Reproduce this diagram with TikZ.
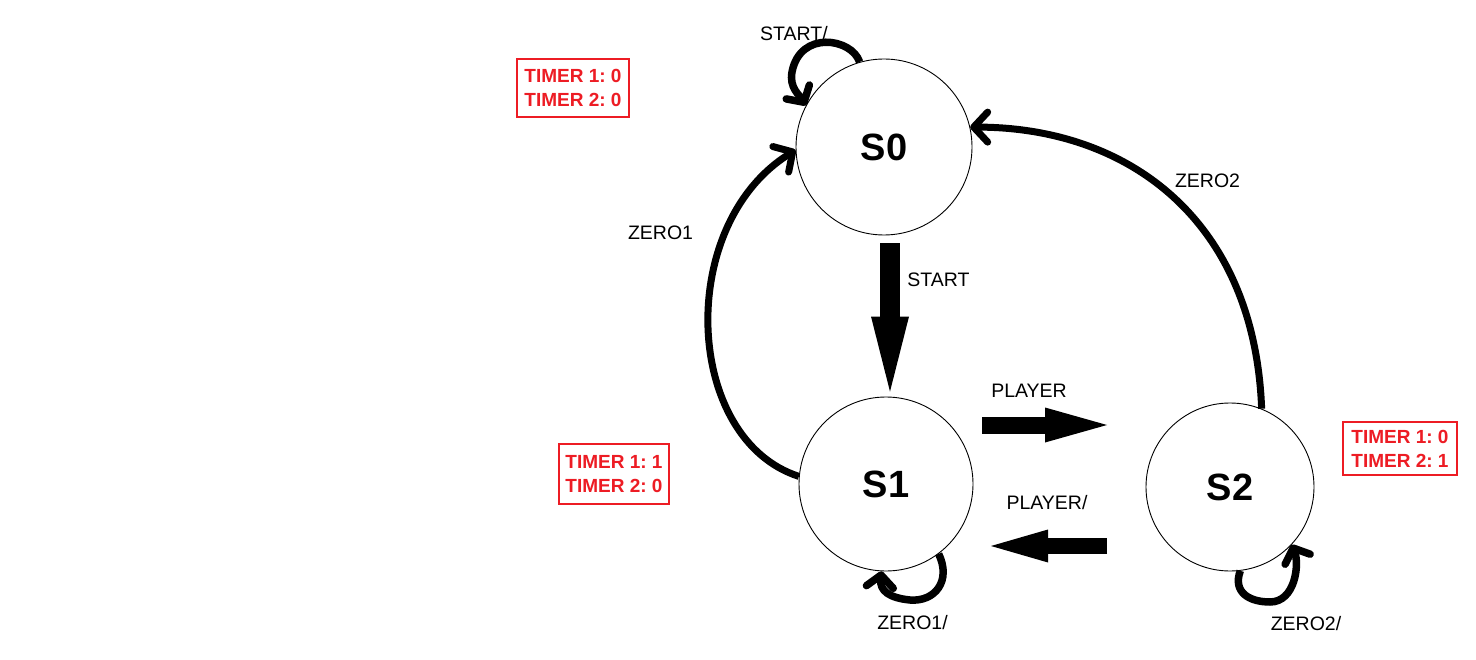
\documentclass[tikz,border=0pt]{standalone}
\usepackage{fontspec}
\setmainfont{Liberation Sans}
\usetikzlibrary{arrows.meta,calc}
\definecolor{pred}{RGB}{237,28,36}
\frenchspacing
\begin{document}
\begin{tikzpicture}[x=1pt,y=-1pt,
  state/.style={circle,draw,line width=0.9pt,inner sep=0pt,font=\fontsize{38}{40}\selectfont\bfseries},
  lbl/.style={font=\fontsize{19.5}{23}\selectfont,anchor=base,inner sep=0pt},
  timer/.style={draw=pred,line width=1.2pt,text=pred,align=center,inner sep=0pt,font=\fontsize{19}{24}\selectfont\bfseries},
  curvearrow/.style={line width=7pt,-{Straight Barb[round,length=14pt,width=30pt]}},
  loopline/.style={line width=7.5pt,-{Straight Barb[round,length=12pt,width=27pt]}},
  blockarrow/.style n args={3}{line width=#1,-{Triangle[length=#2,width=#3,line width=0pt]}}
]
\fill[white] (0,0) rectangle (1476,660);
\useasboundingbox (0,0) rectangle (1476,660);

% states
\node[state,minimum size=176pt] (S0) at (884,147) {S0};
\node[state,minimum size=174pt] (S1) at (886,484) {S1};
\node[state,minimum size=168pt] (S2) at (1230,487) {S2};

% timer boxes
\node[timer,minimum width=112pt,minimum height=58pt] (T0) at (573,88) {TIMER 1: 0\\TIMER 2: 0};
\node[timer,minimum width=110pt,minimum height=60pt] (T1) at (614,474) {TIMER 1: 1\\TIMER 2: 0};
\node[timer,minimum width=114pt,minimum height=53pt] (T2) at (1400,448.5) {TIMER 1: 0\\TIMER 2: 1};

% labels
\node[lbl] (lstartloop) at (794,41) {START/};
\node[lbl] (lstart) at (938.5,287) {START};
\node[lbl] (lplayer) at (1029,398) {PLAYER};
\node[lbl] (lplayerback) at (1047,509) {PLAYER/};
\node[lbl] (lzeroone) at (660.5,240) {ZERO1};
\node[lbl] (lzerotwo) at (1207.5,188) {ZERO2};
\node[lbl] (lzerooneloop) at (912.5,629) {ZERO1/};
\node[lbl] (lzerotwoloop) at (1306,630) {ZERO2/};

% block arrows
\draw[blockarrow={20pt}{75pt}{38pt}] ($(S0.south)+(6,8)$) -- ($(S1.north)+(4,-5)$);
\draw[blockarrow={17pt}{62pt}{35pt}] ($(S1)+(96,-59)$) -- ($(S2)+(-123,-62)$);
\draw[blockarrow={16pt}{57pt}{33pt}] ($(S2)+(-123,59)$) -- ($(S1)+(105,62)$);

% curved transitions
\draw[curvearrow] (S1.175) .. controls +(-115,-37) and +(-121,75) .. (S0.182);
\draw[curvearrow] (S2.68) .. controls +(-7,-187) and +(160,0) .. (S0.13);

% self loops
\draw[loopline] (S0.106) .. controls +(-8,-24) and +(8,-42) .. ($(S0)+(-92,-75)$)
  .. controls +(-3,16) and +(-6,-10) .. (S0.152.5);
\draw[loopline] (S1.-53.5) .. controls +(13,27) and +(25,2) .. ($(S1)+(24,116)$)
  .. controls +(-20,-2) and +(-2,20) .. (S1.-93);
\draw[loopline] (S2.-83) .. controls +(-8,22) and +(-20,0) .. ($(S2)+(40,115)$)
  .. controls +(25,0) and +(8,20) .. (S2.-43);
\end{tikzpicture}
\end{document}
